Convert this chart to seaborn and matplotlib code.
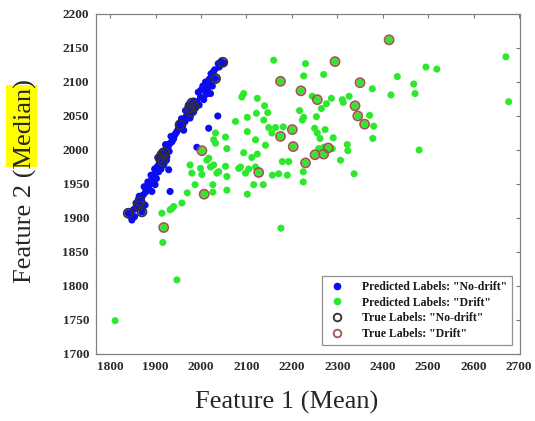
import matplotlib
matplotlib.use("Agg")
import matplotlib.pyplot as plt
from matplotlib.lines import Line2D
from matplotlib.patches import Rectangle
import seaborn as sns
import pandas as pd

# ---------------- data ----------------
blue_x = [2051, 2044, 2038, 2032, 2027, 2022, 2021, 2015, 2010, 2004, 2021, 2012, 1999, 2006, 1991,
          1996, 1985, 1980, 1977, 1973, 1982, 1984, 1970, 1976, 1968, 1965, 1958, 1954, 1962, 1950,
          1947, 1942, 1940, 1936, 1932, 1928, 1926, 1921, 1918, 1914, 1920, 1925, 1912, 1910, 1916,
          1918, 1908, 1903, 1907, 1912, 1900, 1896, 1929, 1892, 1888, 1899, 1885, 1881, 1892, 1878,
          1873, 1869, 1866, 1862, 1877, 1870, 1859, 1870, 1855, 1851, 1844, 1840, 1848, 1854, 1932,
          2017, 2037, 1991,
          2030, 2018, 2008, 1994, 1988, 1978, 1966, 1960, 1952, 1944, 1934, 1930, 1922, 1915, 1905,
          1898, 1890, 1883, 1875, 1864, 1857, 1846, 2040, 2025, 2000, 1972, 1957, 1938, 1924, 1902,
          1886, 1868]
blue_y = [2128, 2130, 2127, 2105, 2115, 2112, 2098, 2091, 2100, 2094, 2083, 2082, 2078, 2074, 2071,
          2066, 2072, 2069, 2063, 2061, 2058, 2056, 2054, 2047, 2050, 2042, 2040, 2037, 2029, 2031,
          2027, 2022, 2017, 2012, 2010, 2005, 2002, 2000, 1997, 1993, 1992, 1990, 1988, 1985, 1983,
          1978, 1980, 1975, 1968, 1972, 1966, 1961, 1971, 1957, 1951, 1949, 1947, 1944, 1939, 1938,
          1934, 1929, 1924, 1927, 1919, 1914, 1917, 1909, 1914, 1912, 1906, 1907, 1897, 1902, 1939,
          2032, 2050, 2004,
          2118, 2104, 2088, 2085, 2062, 2052, 2058, 2036, 2038, 2024, 2020, 1998, 2008, 1998, 1989,
          1972, 1963, 1953, 1946, 1932, 1922, 1902, 2122, 2094, 2088, 2066, 2046, 2015, 1985, 1958,
          1942, 1918]

green_x = [2160, 2090, 2094, 2124, 2140, 2147, 2122, 2102, 2076, 2138, 2149, 2164, 2181, 2102, 2156,
           2032, 2054, 2028, 2120, 2032, 2142, 2057, 2094, 2124, 2112, 2017, 2179, 2193, 1976, 2028,
           2054, 2087, 1999, 2105, 2039, 2157, 2171, 2190, 1980, 2057, 2002, 2035, 2098, 2120, 1987,
           2026, 2057, 2116, 2137, 2102, 1970, 2026, 1958, 2176, 2083, 2013, 2021, 1940, 1932, 1914,
           1936, 1916, 1947, 1811, 2230, 2226, 2270, 2432, 2377, 2418, 2245, 2287, 2311, 2326, 2313,
           2276, 2265, 2371, 2380, 2378, 2217, 2226, 2223, 2254, 2250, 2256, 2273, 2262, 2291, 2259,
           2270, 2322, 2323, 2307, 2225, 2337, 2225, 2495, 2519, 2671, 2677, 2468, 2471, 2480, 2289,
           2414, 2295, 2175, 2220, 2350, 2256, 2339, 2345, 2360, 2201, 2175, 2203, 2280, 2251, 2270,
           2230, 2127, 2007, 2002, 1918]
green_y = [2132, 2078, 2083, 2076, 2065, 2055, 2054, 2048, 2042, 2044, 2033, 2033, 2034, 2027, 2025,
           2025, 2019, 2015, 2015, 2010, 2007, 2002, 1996, 1994, 1989, 1988, 1983, 1983, 1978, 1978,
           1976, 1975, 1973, 1972, 1968, 1963, 1965, 1963, 1966, 1961, 1964, 1966, 1966, 1975, 1949,
           1949, 1941, 1949, 1949, 1935, 1937, 1938, 1922, 1885, 1973, 1985, 1975, 1917, 1912, 1907,
           1914, 1864, 1809, 1749, 2127, 2109, 2111, 2108, 2090, 2081, 2079, 2076, 2074, 2079, 2070,
           2068, 2061, 2051, 2035, 2017, 2058, 2048, 2044, 2049, 2032, 2025, 2030, 2017, 2018, 2002,
           2004, 2008, 1999, 1985, 1968, 1965, 1953, 2122, 2119, 2137, 2071, 2097, 2083, 2000, 2002,
           2162, 2130, 2101, 2087, 2099, 2074, 2065, 2050, 2038, 2030, 2020, 2005, 2003, 1993, 1994,
           1981, 1967, 1935, 1999, 1886]

true_nodrift_x = [2048, 2032, 1980, 1985, 1975, 1977, 1954, 1914, 1920, 1910, 1916, 1866, 1870, 1840, 1862]
true_nodrift_y = [2129, 2105, 2069, 2064, 2062, 2056, 2037, 1993, 1996, 1988, 1983, 1924, 1909, 1907, 1918]

true_drift_x = [2414, 2295, 2175, 2220, 2350, 2256, 2339, 2345, 2360, 2201, 2175, 2203, 2280, 2251,
                2270, 2230, 2127, 2007, 2002, 1918]
true_drift_y = [2162, 2130, 2101, 2087, 2099, 2074, 2065, 2050, 2038, 2030, 2020, 2005, 2003, 1993,
                1994, 1981, 1967, 1935, 1999, 1886]

x_ticks = [1800, 1900, 2000, 2100, 2200, 2300, 2400, 2500, 2600, 2700]
y_ticks = [1700, 1750, 1800, 1850, 1900, 1950, 2000, 2050, 2100, 2150, 2200]
legend_labels = ['Predicted Labels: "No-drift"', 'Predicted Labels: "Drift"',
                 'True Labels: "No-drift"', 'True Labels: "Drift"']

# ---------------- style ----------------
sns.set_style("white")
plt.rcParams['font.family'] = ['Liberation Serif', 'DejaVu Serif']

BLUE = "#0c0cf0"
GREEN = "#2ee82e"
RING_DARK = "#303036"
RING_RED = "#a0574f"

pred = pd.DataFrame({
    "x": blue_x + green_x,
    "y": blue_y + green_y,
    "label": ["No-drift"] * len(blue_x) + ["Drift"] * len(green_x),
})

fig = plt.figure(figsize=(5.35, 4.21), dpi=100)
ax = fig.add_axes([96 / 535, 67 / 421, 424 / 535, 340 / 421])

sns.scatterplot(data=pred, x="x", y="y", hue="label",
                palette={"No-drift": BLUE, "Drift": GREEN},
                s=26, linewidth=0, legend=False, ax=ax, zorder=2)
sns.scatterplot(x=true_nodrift_x, y=true_nodrift_y, s=42, color=RING_DARK,
                facecolor="none", edgecolor=RING_DARK, linewidth=1.3, ax=ax, zorder=3)
sns.scatterplot(x=true_drift_x, y=true_drift_y, s=42, color=RING_RED,
                facecolor="none", edgecolor=RING_RED, linewidth=1.3, ax=ax, zorder=3)

ax.set_xlim(1769, 2702)
ax.set_ylim(1700, 2200)
ax.set_xticks(x_ticks)
ax.set_yticks(y_ticks)
ax.set_xlabel("")
ax.set_ylabel("")
ax.tick_params(direction="in", top=True, right=True, length=3, width=0.8,
               color="#777777", pad=5, labelsize=9.5, labelcolor="#2a2a2a")
for lab in ax.get_xticklabels() + ax.get_yticklabels():
    lab.set_fontweight("bold")
for sp in ax.spines.values():
    sp.set_color("#808080")
    sp.set_linewidth(0.9)

# axis labels
fig.text(287 / 535, 19 / 421, "Feature 1 (Mean)", ha="center", va="center", fontsize=19)
fig.patches.append(Rectangle((6 / 535, (421 - 167) / 421), 31 / 535, 82 / 421,
                             transform=fig.transFigure, facecolor="#ffff00",
                             edgecolor="none", zorder=-1))
fig.text(25 / 535, (421 - 181) / 421, "Feature 2 (Median)", ha="center", va="center",
         rotation=90, fontsize=19)

handles = [
    Line2D([], [], ls="", marker="o", markersize=4.5, markerfacecolor=BLUE, markeredgecolor=BLUE),
    Line2D([], [], ls="", marker="o", markersize=4.5, markerfacecolor=GREEN, markeredgecolor=GREEN),
    Line2D([], [], ls="", marker="o", markersize=5.5, markerfacecolor="none",
           markeredgecolor=RING_DARK, markeredgewidth=1.3),
    Line2D([], [], ls="", marker="o", markersize=5.5, markerfacecolor="none",
           markeredgecolor=RING_RED, markeredgewidth=1.3),
]
leg = ax.legend(handles, legend_labels, loc="lower right",
                bbox_to_anchor=(0.981, 0.0265), borderaxespad=0,
                prop={"family": "Liberation Serif", "weight": "bold", "size": 8.5},
                frameon=True, fancybox=False, framealpha=1, edgecolor="#909090",
                handlelength=1.6, handletextpad=1.3, labelspacing=0.3, borderpad=0.45)
leg.get_frame().set_linewidth(0.9)
for t in leg.get_texts():
    t.set_color("#1a1a1a")

fig.savefig("out.png", dpi=100)
